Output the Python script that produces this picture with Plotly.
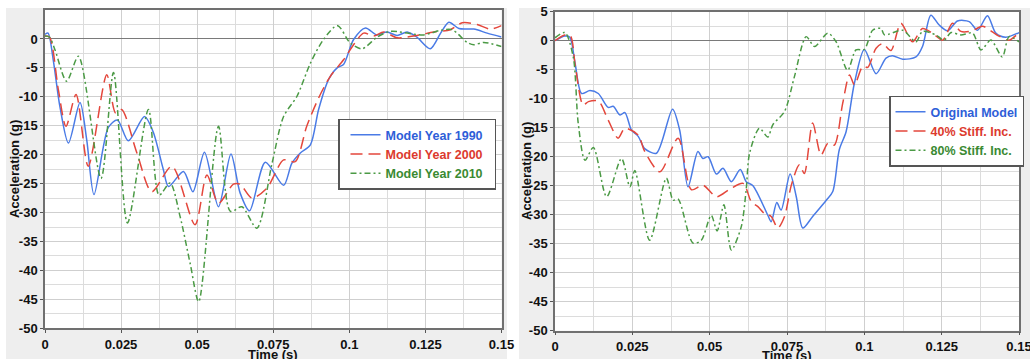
import plotly.graph_objects as go

# ---------------- data ----------------
# Left panel: model-year comparison (time in s, acceleration in g)
t_1990 = [0, 0.001, 0.0027, 0.0049, 0.0077, 0.0115, 0.0137, 0.0161, 0.0208, 0.0238, 0.0274, 0.0327,
          0.0355, 0.0389, 0.0406, 0.0455, 0.0486, 0.0524, 0.057, 0.0611, 0.0641, 0.0672, 0.0724, 0.0784,
          0.0811, 0.0839, 0.0872, 0.0899, 0.0932, 0.096, 0.0981, 0.1014, 0.1053, 0.109, 0.1124, 0.1157,
          0.119, 0.1222, 0.1266, 0.13, 0.1327, 0.136, 0.1409, 0.1453, 0.15]
a_1990 = [0.8, 1.0, -3.6, -11.7, -18.0, -11.0, -17.4, -26.9, -15.3, -14.0, -17.6, -13.4,
          -16.0, -22.6, -25.5, -22.9, -26.4, -19.6, -29.0, -19.9, -26.6, -29.7, -21.3, -25.3,
          -21.5, -19.7, -18.3, -12.2, -7.0, -5.0, -4.4, -0.1, 1.9, 0.7, 1.2, 0.6,
          1.2, 0.3, -1.7, 1.0, 2.9, 1.8, 1.7, 1.0, 0.35]

t_2000 = [0, 0.0015, 0.0044, 0.0069, 0.0102, 0.0142, 0.0203, 0.0232, 0.0252, 0.0302, 0.0351, 0.0417,
          0.0493, 0.0532, 0.057, 0.0619, 0.0641, 0.068, 0.0729, 0.0784, 0.0822, 0.086, 0.0899, 0.0937,
          0.0981, 0.1014, 0.1047, 0.108, 0.1113, 0.1157, 0.1222, 0.1277, 0.1332, 0.1371, 0.142, 0.1464, 0.15]
a_2000 = [0.5, 0.3, -8.8, -15.1, -9.6, -22.0, -6.2, -12.8, -12.2, -19.7, -26.4, -22.0,
          -32.1, -23.5, -28.4, -25.1, -25.1, -27.5, -25.8, -20.9, -21.2, -15.1, -10.2, -6.5,
          -3.6, -1.0, 1.0, 0.5, 1.2, 0.2, 0.6, 1.2, 1.6, 2.8, 2.5, 1.7, 2.3]

t_2010 = [0, 0.0015, 0.0033, 0.0071, 0.011, 0.0184, 0.0225, 0.0271, 0.034, 0.0375, 0.0411, 0.0444,
          0.0477, 0.0505, 0.057, 0.0609, 0.0647, 0.0696, 0.0746, 0.0784, 0.0828, 0.0872, 0.0915, 0.0961,
          0.1003, 0.1042, 0.1091, 0.1135, 0.1244, 0.13, 0.1338, 0.1387, 0.1409, 0.1442, 0.15]
a_2010 = [0.5, 0.3, -1.9, -7.3, -3.0, -24.1, -5.8, -31.8, -12.2, -27.0, -24.9, -30.7,
          -38.8, -45.4, -15.1, -29.8, -29.0, -32.7, -21.5, -13.4, -9.9, -4.2, -0.1, 2.3,
          -0.7, -1.7, 0.3, 1.3, 0.7, 1.5, 1.6, -0.6, -1.0, -0.6, -1.3]

# Right panel: stiffness study
t_orig = [0, 0.0032, 0.0048, 0.0065, 0.0086, 0.0113, 0.014, 0.0172, 0.0188, 0.021, 0.0226, 0.0247,
          0.0269, 0.029, 0.0328, 0.038, 0.0403, 0.043, 0.0462, 0.0478, 0.0495, 0.0522, 0.0543, 0.057,
          0.0599, 0.0618, 0.064, 0.0688, 0.0699, 0.0717, 0.0731, 0.076, 0.078, 0.0801, 0.0833, 0.0877,
          0.0898, 0.0919, 0.0941, 0.0968, 0.1, 0.1038, 0.107, 0.1091, 0.1124, 0.1167, 0.1188, 0.1215,
          0.1242, 0.1269, 0.1301, 0.1339, 0.1366, 0.1398, 0.1425, 0.1457, 0.15]
a_orig = [0, 0.8, 0.6, -3.9, -9.1, -8.6, -9.1, -11.5, -11.3, -12.8, -12.4, -15.4,
          -16.5, -18.6, -19.4, -11.8, -15.4, -25.2, -19.1, -20.3, -20.0, -23.0, -22.0, -24.3,
          -22.2, -24.3, -25.0, -30.1, -31.2, -27.9, -29.2, -23.0, -26.9, -32.3, -30.3, -27.5,
          -26.0, -18.8, -15.7, -7.3, -1.5, -5.7, -3.0, -2.6, -3.2, -2.8, -1.0, 4.4,
          2.7, 1.7, 3.4, 3.3, 1.8, 4.3, 1.3, 0.6, 1.4]

t_40 = [0, 0.0032, 0.005, 0.0066, 0.0091, 0.0108, 0.014, 0.0172, 0.0204, 0.0226, 0.0269, 0.029,
        0.0339, 0.0398, 0.0441, 0.0478, 0.0522, 0.0565, 0.0608, 0.0635, 0.0656, 0.0677, 0.0699, 0.072,
        0.0742, 0.0764, 0.079, 0.0806, 0.0833, 0.086, 0.0882, 0.0903, 0.093, 0.0952, 0.0968, 0.0995,
        0.1011, 0.1038, 0.1059, 0.1086, 0.1118, 0.1156, 0.1188, 0.122, 0.1253, 0.1285, 0.1312, 0.1339,
        0.136, 0.1382, 0.1435, 0.1468, 0.15]
a_40 = [0, 1.0, 0.8, -4.5, -11.1, -10.5, -10.4, -13.7, -16.8, -15.1, -16.3, -19.1,
        -22.6, -16.8, -25.7, -24.9, -26.9, -25.6, -24.6, -27.8, -28.6, -29.8, -30.3, -32.3,
        -30.3, -24.9, -21.4, -22.9, -14.2, -19.7, -17.7, -18.0, -10.8, -5.9, -7.6, -4.4,
        -4.6, -1.3, -0.5, -1.7, 3.0, -0.2, 2.1, 1.3, 0.1, 3.0, 1.6, 1.6,
        2.0, 2.5, 0.8, 0.1, 1.4]

t_80 = [0, 0.0032, 0.0059, 0.0075, 0.0097, 0.0124, 0.0167, 0.0215, 0.0242, 0.0258, 0.0306, 0.036,
        0.0382, 0.0398, 0.0446, 0.0473, 0.0505, 0.0524, 0.0546, 0.057, 0.0602, 0.0618, 0.0629, 0.0661,
        0.0688, 0.0704, 0.0742, 0.0774, 0.0812, 0.0839, 0.0882, 0.0909, 0.0946, 0.0973, 0.1, 0.1027,
        0.1054, 0.1065, 0.1124, 0.1167, 0.1188, 0.1231, 0.1258, 0.128, 0.1312, 0.135, 0.1377, 0.1409,
        0.1446, 0.1468, 0.15]
a_80 = [0.5, 1.4, -2.8, -14.2, -20.6, -18.4, -26.9, -20.3, -25.2, -22.4, -34.4, -23.7,
        -27.5, -27.3, -34.9, -34.4, -30.1, -32.8, -28.3, -36.1, -32.1, -25.7, -19.4, -15.1,
        -16.6, -14.5, -12.2, -6.2, 0.7, -1.0, 1.3, -0.2, -5.1, -1.6, -1.5, 1.8,
        2.1, 1.0, 1.8, -0.2, 1.6, 1.0, 0.1, 1.4, 1.0, 1.3, -1.6, 0.1,
        -2.8, 0.7, -0.2]

x_tickvals = [0, 0.025, 0.05, 0.075, 0.1, 0.125, 0.15]
x_ticktext = ["0", "0.025", "0.05", "0.075", "0.1", "0.125", "0.15"]
y_left_ticks = [-50, -45, -40, -35, -30, -25, -20, -15, -10, -5, 0]
y_right_ticks = [-50, -45, -40, -35, -30, -25, -20, -15, -10, -5, 0, 5]

# ---------------- styling ----------------
W, H = 1030, 359
FONT = "Liberation Sans, Arial, sans-serif"
BLUE, RED, GREEN = "#4a7be6", "#e4473c", "#4b9a45"
BLUE_T, RED_T, GREEN_T = "#2e5ed8", "#dc3a2e", "#3a8a32"
PANEL = "#eeeeee"


def px_x(p):
    return p / W


def px_y(p):
    return 1 - p / H


def label(text, color, pad=0):
    return f'<span style="color:{color}">{text}{"&nbsp;" * pad}</span>'


fig = go.Figure()

series = [
    (t_1990, a_1990, "Model Year 1990", BLUE, BLUE_T, "solid", "x", "y", "legend", 2),
    (t_2000, a_2000, "Model Year 2000", RED, RED_T, "12px,6px", "x", "y", "legend", 2),
    (t_2010, a_2010, "Model Year 2010", GREEN, GREEN_T, "6px,3px,2px,3px", "x", "y", "legend", 2),
    (t_orig, a_orig, "Original Model", BLUE, BLUE_T, "solid", "x2", "y2", "legend2", 0),
    (t_40, a_40, "40% Stiff. Inc.", RED, RED_T, "12px,6px", "x2", "y2", "legend2", 0),
    (t_80, a_80, "80% Stiff. Inc.", GREEN, GREEN_T, "6px,3px,2px,3px", "x2", "y2", "legend2", 0),
]
for t, a, name, col, tcol, dash, xa, ya, lg, pad in series:
    fig.add_trace(go.Scatter(
        x=t, y=a, mode="lines", name=label(name, tcol, pad),
        line=dict(color=col, width=1.5, dash=dash, shape="spline", smoothing=0.8),
        xaxis=xa, yaxis=ya, legend=lg,
    ))

tickfont = dict(family=FONT, size=13, color="#111111", weight="bold")


def xaxis(domain, anchor):
    return dict(
        domain=domain, anchor=anchor, range=[0, 0.15], automargin=False,
        tickmode="array", tickvals=x_tickvals, ticktext=x_ticktext,
        tickfont=tickfont, ticks="outside", ticklen=3, tickcolor="#555555",
        ticklabeloverflow="allow",
        showline=True, mirror=True, linecolor="#707070", linewidth=1.5,
        showgrid=True, gridcolor="#cfcfcf", gridwidth=1,
        minor=dict(dtick=0.0125, tick0=0, showgrid=True, gridcolor="#dcdcdc", gridwidth=1),
        zeroline=False, fixedrange=True,
    )


def yaxis(domain, anchor, ticks, top):
    return dict(
        domain=domain, anchor=anchor, range=[-50, top], automargin=False,
        tickmode="array", tickvals=ticks, ticktext=[str(v) for v in ticks],
        tickfont=tickfont, ticks="outside", ticklen=3, tickcolor="#555555",
        showline=True, mirror=True, linecolor="#707070", linewidth=1.5,
        showgrid=True, gridcolor="#cfcfcf", gridwidth=1,
        minor=dict(dtick=2.5, tick0=0, showgrid=True, gridcolor="#dcdcdc", gridwidth=1),
        zeroline=True, zerolinecolor="#7a7a7a", zerolinewidth=1.2, fixedrange=True,
    )


legend_common = dict(
    bgcolor="white", bordercolor="#555555", borderwidth=1.5,
    font=dict(family=FONT, size=12.5, weight="bold"),
    xanchor="left", yanchor="middle", tracegroupgap=0,
)

# white page strips around the two grey panels
strip = dict(type="rect", xref="paper", yref="paper", layer="below",
             fillcolor="white", line=dict(width=0))
shapes = [
    dict(strip, x0=0, x1=1, y0=px_y(8), y1=1),
    dict(strip, x0=0, x1=px_x(6), y0=0, y1=1),
    dict(strip, x0=px_x(507), x1=px_x(519), y0=0, y1=1),
]

title_font = dict(family=FONT, size=13, color="#111111", weight="bold")
annotations = [
    dict(text="Acceleration (g)", xref="paper", yref="paper", x=px_x(14), y=px_y(169),
         textangle=-90, showarrow=False, font=title_font, xanchor="center", yanchor="middle"),
    dict(text="Time (s)", xref="paper", yref="paper", x=px_x(273), y=px_y(354.5),
         showarrow=False, font=title_font, xanchor="center", yanchor="middle"),
    dict(text="Acceleration (g)", xref="paper", yref="paper", x=px_x(526), y=px_y(171),
         textangle=-90, showarrow=False, font=title_font, xanchor="center", yanchor="middle"),
    dict(text="Time (s)", xref="paper", yref="paper", x=px_x(787), y=px_y(355.5),
         showarrow=False, font=title_font, xanchor="center", yanchor="middle"),
]

fig.update_layout(
    width=W, height=H,
    margin=dict(l=0, r=0, t=0, b=0, autoexpand=False),
    paper_bgcolor=PANEL, plot_bgcolor="white",
    font=dict(family=FONT),
    showlegend=True,
    xaxis=xaxis([px_x(45), px_x(501.5)], "y"),
    yaxis=yaxis([px_y(328.3), px_y(10)], "x", y_left_ticks, 5),
    xaxis2=xaxis([px_x(555), px_x(1019)], "y2"),
    yaxis2=yaxis([px_y(330.7), px_y(11.7)], "x2", y_right_ticks, 5),
    legend=dict(x=px_x(338), y=px_y(154), indentation=6, **legend_common),
    legend2=dict(x=px_x(889), y=px_y(131), **legend_common),
    shapes=shapes,
    annotations=annotations,
)

fig.write_html("out.html")
